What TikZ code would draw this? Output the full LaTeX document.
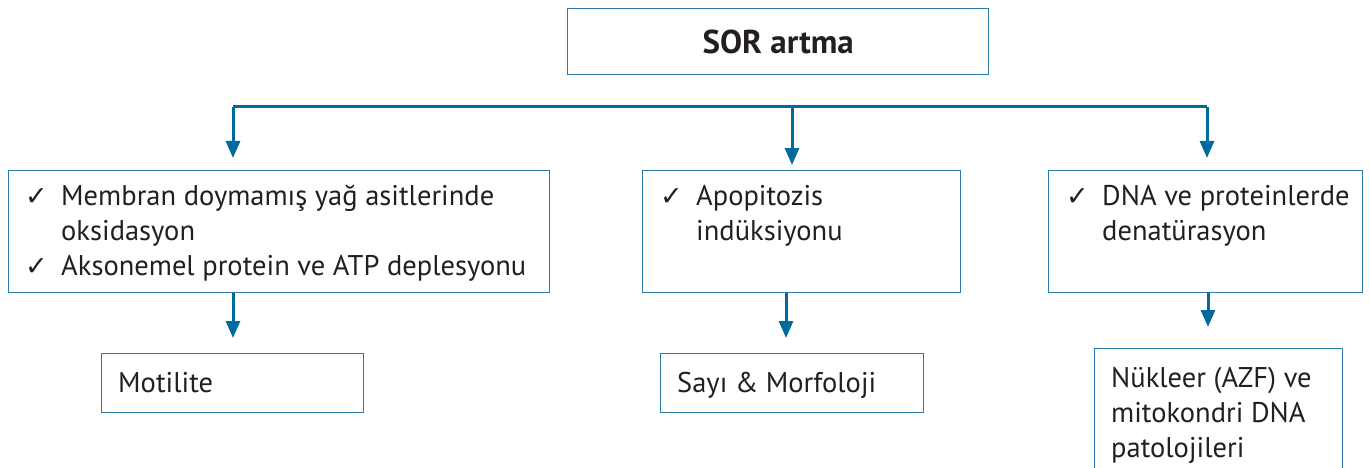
\documentclass[tikz,border=0pt]{standalone}
\usepackage{fontspec}
\setmainfont{PT Sans}
\newfontfamily\checkfont{DejaVu Sans}
\usetikzlibrary{arrows.meta}
\definecolor{arrowblue}{RGB}{0,107,158}
\definecolor{boxblue}{RGB}{45,122,172}
\definecolor{ink}{RGB}{35,31,32}
\newcommand{\CHK}{\makebox[36pt][l]{\checkfont\fontsize{27}{27}\selectfont ✓}}
\newcommand{\NOCHK}{\makebox[36pt][l]{}}

\begin{document}
\begin{tikzpicture}[
  box/.style={draw=boxblue, line width=1.4pt, anchor=north west, inner sep=0pt},
  txt/.style={inner sep=0pt, align=left, text=ink, font=\fontsize{28.5}{35}\selectfont},
  arr/.style={draw=arrowblue, line width=3pt, -{Triangle[width=14pt,length=17pt]}}
]

\newcommand\LINEY{-107}

  \clip (0pt,0pt) rectangle (1370pt,-468pt);

  %% cause
  \node[box, minimum width=421pt, minimum height=66pt, text=ink,
    font=\bfseries\fontsize{33}{33}\selectfont] (sor) at (567pt,-8pt) {SOR artma};

  %% effects
  \node[box, minimum width=541pt, minimum height=122pt] (oks) at (8pt,-170pt) {};
  \node[txt, anchor=north west] (oksT) at ([xshift=17pt,yshift=-15pt]oks.north west)
  {\CHK Membran doymamış yağ asitlerinde\\\NOCHK oksidasyon\\\CHK Aksonemel protein ve ATP deplesyonu};

  \node[box, minimum width=318pt, minimum height=122pt] (apo) at (642pt,-170pt) {};
  \node[txt, anchor=north west] (apoT) at ([xshift=18pt,yshift=-15pt]apo.north west)
  {\CHK Apopitozis\\\NOCHK indüksiyonu};

  \node[box, minimum width=314pt, minimum height=122pt] (dna) at (1048pt,-170pt) {};
  \node[txt, anchor=north west] (dnaT) at ([xshift=18pt,yshift=-15pt]dna.north west)
  {\CHK DNA ve proteinlerde\\\NOCHK denatürasyon};

  %% results
  \node[box, minimum width=262pt, minimum height=59pt] (mot) at (101pt,-353pt) {};
  \node[txt, anchor=base west] (motT) at (118pt,-392pt) {Motilite};

  \node[box, minimum width=263pt, minimum height=59pt] (say) at (660pt,-353pt) {};
  \node[txt, anchor=base west] (sayT) at (677pt,-392pt) {Sayı \& Morfoloji};

  \node[box, minimum width=248pt, minimum height=140pt] (nuk) at (1094pt,-348pt) {};
  \node[txt, anchor=north west] (nukT) at ([xshift=17pt,yshift=-19pt]nuk.north west)
  {Nükleer (AZF) ve\\mitokondri DNA\\patolojileri};

  %% branch line
  \coordinate (hlL) at (233pt,\LINEY pt);
  \coordinate (hlM) at (792pt,\LINEY pt);
  \coordinate (hlR) at (1207pt,\LINEY pt);
  \draw[draw=arrowblue, line width=3pt] (hlL) -- (hlR);
  \draw[arr, shorten >=12pt] (hlL) -- (hlL |- oks.north);
  \draw[arr, shorten >=5pt] (hlM) -- (hlM |- apo.north);
  \draw[arr, shorten >=12pt] (hlR) -- (hlR |- dna.north);

  %% effect to result
  \coordinate (dL) at (233pt,-292pt);
  \coordinate (dM) at (786pt,-292pt);
  \coordinate (dR) at (1208pt,-292pt);
  \draw[arr, shorten >=15pt] (oks.south -| dL) -- (mot.north -| dL);
  \draw[arr, shorten >=15pt] (apo.south -| dM) -- (say.north -| dM);
  \draw[arr, shorten >=21pt] (dna.south -| dR) -- (nuk.north -| dR);

\end{tikzpicture}
\end{document}
